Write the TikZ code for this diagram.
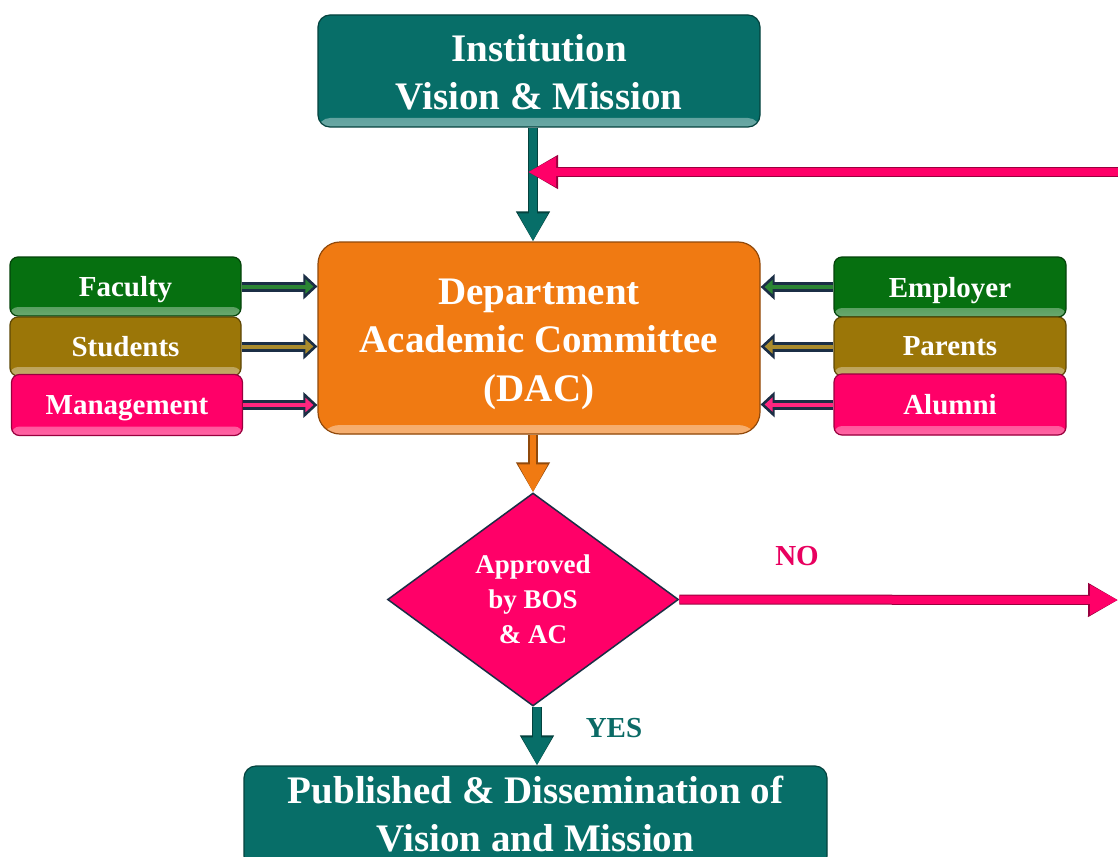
\documentclass[tikz,border=0pt]{standalone}
\usepackage{fontspec}
\setmainfont{Liberation Serif}
\usetikzlibrary{arrows.meta,shapes.geometric}
\definecolor{cteal}{HTML}{076E68}
\definecolor{corange}{HTML}{F07A12}
\definecolor{cgreen}{HTML}{067010}
\definecolor{colive}{HTML}{9B7608}
\definecolor{cpink}{HTML}{FF0068}
\definecolor{cnavy}{HTML}{1B2E45}
\definecolor{cnotext}{HTML}{E8005F}
\definecolor{cyestext}{HTML}{0B6B66}
\newcommand{\lowered}[2]{\raisebox{#1}[\height][\depth]{\begin{tabular}{@{}c@{}}#2\end{tabular}}}
\begin{document}
\begin{tikzpicture}[x=1pt,y=-1pt,
  rbox/.style={rectangle, rounded corners=12pt, draw=#1!60!black, fill=#1, line width=1.2pt,
    text=white, inner sep=0pt,
    path picture={\shade[top color=#1, bottom color=#1!60!white]
      ([yshift=9pt]path picture bounding box.south west) rectangle (path picture bounding box.south east);}},
  bigfont/.style={font=\bfseries\fontsize{39}{48.5}\selectfont},
  sidefont/.style={font=\bfseries\fontsize{29}{30}\selectfont},
  sidebox/.style={rbox=#1, minimum width=231pt, minimum height=59pt, rounded corners=8pt, sidefont,
    text depth=0pt},
  fatarrow/.style={draw=#1, line width=8pt, -{Triangle[length=28pt,width=28pt]},
    preaction={draw=#1!60!black, line width=10pt, -{Triangle[length=30pt,width=32pt]}}},
  sidebase/.style={draw=cnavy, line width=10pt, -{Triangle[length=14pt,width=25pt]}},
  sideinner/.style={draw=#1!85!white, line width=4pt, shorten >=4pt, -{Triangle[length=8pt,width=14pt]}},
  lbl/.style={font=\bfseries\fontsize{29}{30}\selectfont}
]
\useasboundingbox (0,0) rectangle (1118,856);
\fill[white] (0,0) rectangle (1118,856);

% main boxes
\node[rbox=cteal, minimum width=442pt, minimum height=112pt, bigfont] (inst) at (539,71)
  {\lowered{-5pt}{Institution\\Vision \& Mission}};
\node[rbox=corange, minimum width=442pt, minimum height=192pt, rounded corners=22pt, bigfont] (dac) at (539,338)
  {\lowered{-5pt}{Department\\Academic Committee\\(DAC)}};

% left stakeholders
\node[sidebox=cgreen] (fac) at (125.5,286.5) {Faculty};
\node[sidebox=colive] (stu) at (125.5,346.5) {Students};
\node[sidebox=cpink, minimum height=61pt] (man) at (127,405) {Management};

% right stakeholders
\node[sidebox=cgreen, minimum width=232pt, minimum height=60pt] (emp) at (950,287) {Employer};
\node[sidebox=colive, minimum width=232pt] (par) at (950,346.5) {Parents};
\node[sidebox=cpink, minimum width=232pt, minimum height=61pt] (alu) at (950,404.5) {Alumni};

% decision
\node[diamond, aspect=1.37, draw=cnavy, fill=cpink, line width=1.5pt, minimum width=291pt, minimum height=213pt,
  inner sep=0pt, text=white, align=center, font=\bfseries\fontsize{27}{35}\selectfont] (appr) at (533,599.5)
  {Approved\\by BOS\\\& AC};

% result
\node[rbox=cteal, minimum width=583pt, minimum height=102pt, bigfont] (pub) at (535.5,817)
  {\lowered{-1pt}{Published \& Dissemination of\\Vision and Mission}};

% side arrows
\foreach \n/\c in {fac/cgreen,stu/colive,man/cpink}{
  \draw[sidebase] (\n.east) -- (\n.east -| dac.west);
  \draw[sideinner=\c] (\n.east) -- (\n.east -| dac.west);
}
\foreach \n/\c in {emp/cgreen,par/colive,alu/cpink}{
  \draw[sidebase] (\n.west) -- (\n.west -| dac.east);
  \draw[sideinner=\c] (\n.west) -- (\n.west -| dac.east);
}

% vertical flow
\draw[fatarrow=cteal] ([xshift=-6pt]inst.south) -- ([xshift=-6pt]dac.north);
\coordinate (loopR) at (1118,172);
\coordinate (loopL) at (528,172);
\draw[fatarrow=cpink] (loopR) -- (loopL);
\draw[fatarrow=corange, line width=6pt] (appr.north |- dac.south) -- (appr.north);
\coordinate (noR) at (1118,600);
\draw[fatarrow=cpink] (appr.east) -- (noR);
\draw[fatarrow=cteal] ([xshift=4pt]appr.south) -- ([xshift=4pt]appr.south |- pub.north);

% labels
\node[lbl, text=cnotext] (no) at (797,556) {NO};
\node[lbl, text=cyestext] (yes) at (614,728) {YES};
\end{tikzpicture}
\end{document}
